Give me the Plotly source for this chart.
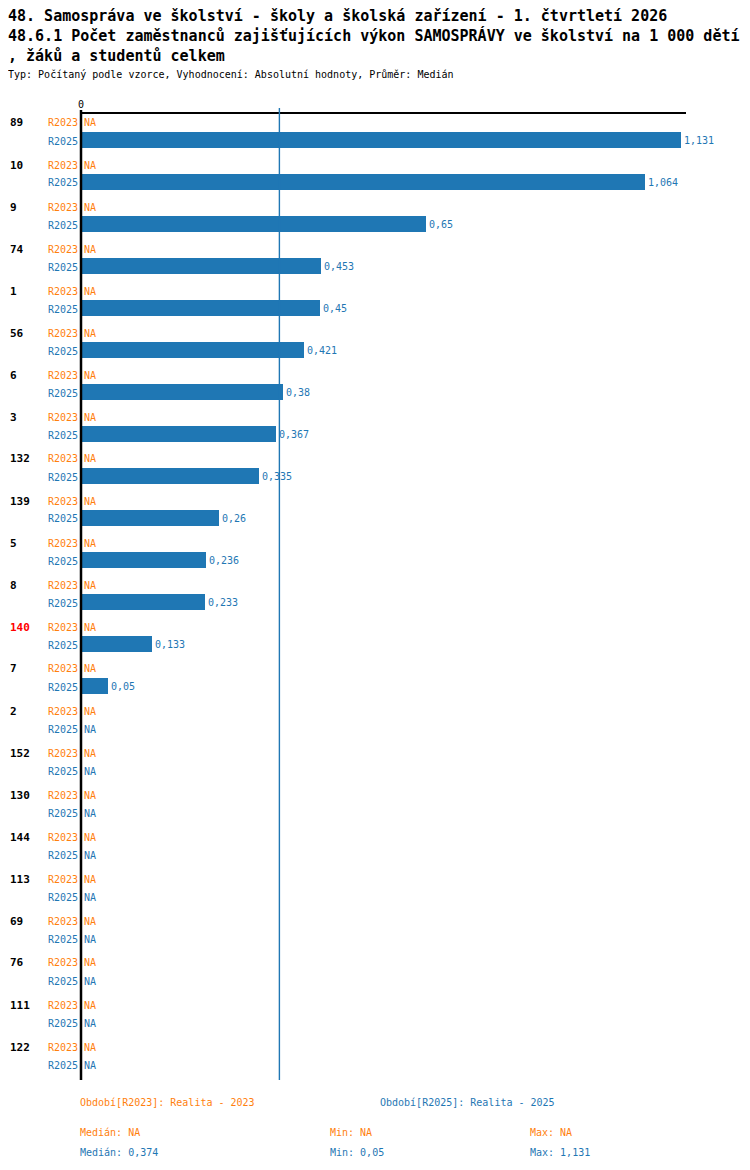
import plotly.graph_objects as go

# --- data ---
groups = ["89", "10", "9", "74", "1", "56", "6", "3", "132", "139", "5", "8",
          "140", "7", "2", "152", "130", "144", "113", "69", "76", "111", "122"]
r2023 = [None] * len(groups)
r2025 = [1.131, 1.064, 0.65, 0.453, 0.45, 0.421, 0.38, 0.367, 0.335, 0.26,
         0.236, 0.233, 0.133, 0.05, None, None, None, None, None, None, None,
         None, None]
highlight = "140"
median_2025 = 0.374
min_2025 = 0.05
max_2025 = 1.131

title_1 = "48. Samospráva ve školství - školy a školská zařízení - 1. čtvrtletí 2026"
title_2 = "48.6.1 Počet zaměstnanců zajišťujících výkon SAMOSPRÁVY ve školství na 1 000 dětí"
title_3 = ", žáků a studentů celkem"
subtitle = "Typ: Počítaný podle vzorce, Vyhodnocení: Absolutní hodnoty, Průměr: Medián"

ORANGE = "#ff7f0e"
BLUE = "#1f77b4"
FONT = "DejaVu Sans Mono"

# --- geometry: positions given in page pixels, page body has an 8px margin ---
OFF = 8
W, H = 750 - OFF, 1170 - OFF
AX_LEFT, AX_RIGHT, AX_TOP, AX_BOTTOM = 81, 686, 114, 1080
L = AX_LEFT - OFF
R = W - (AX_RIGHT - OFF)
T = AX_TOP - OFF
B = H - (AX_BOTTOM - OFF)
PLOT_W = W - L - R
PLOT_H = H - T - B
PITCH = 42
X_MAX = 1.1405
PAD = 2  # annotation inner padding


def fmt(v):
    return "NA" if v is None else f"{v:g}".replace(".", ",")


def py(ypage):
    return (H - B - (ypage - OFF)) / PLOT_H


def px(xpage):
    return (xpage - OFF - L) / PLOT_W


y23 = [PITCH * i + 9 for i in range(len(groups))]
y25 = [PITCH * i + 27 for i in range(len(groups))]
ybar = [PITCH * i + 26 for i in range(len(groups))]

fig = go.Figure()

fig.add_trace(go.Bar(
    y=ybar, x=[0 if v is None else v for v in r2025], orientation="h",
    width=16, marker=dict(color=BLUE, line=dict(width=0)),
    text=[fmt(v) if v is not None else "" for v in r2025],
    textposition="outside", cliponaxis=False, constraintext="none",
    textfont=dict(family=FONT, size=10, color=BLUE),
    showlegend=False, hoverinfo="skip",
))

ann = []
for i, g in enumerate(groups):
    ann.append(dict(x=px(10 - PAD), xref="paper", y=py(AX_TOP + y23[i]), yref="paper",
                    text=f"<b>{g}</b>", showarrow=False, xanchor="left",
                    yanchor="middle",
                    font=dict(family=FONT, size=11,
                              color="#ff0000" if g == highlight else "#000000")))
    for yy, lab, col, val in ((y23[i], "R2023", ORANGE, r2023[i]),
                              (y25[i], "R2025", BLUE, r2025[i])):
        ann.append(dict(x=px(78 + PAD), xref="paper", y=py(AX_TOP + yy), yref="paper",
                        text=lab, showarrow=False, xanchor="right",
                        yanchor="middle", font=dict(family=FONT, size=10, color=col)))
        if val is None:
            ann.append(dict(x=px(84 - PAD), xref="paper", y=py(AX_TOP + yy), yref="paper",
                            text="NA", showarrow=False, xanchor="left",
                            yanchor="middle", font=dict(family=FONT, size=10, color=col)))

# titles (page y of line centres; first line pushed down to stay inside the svg)
for ypx, txt, size, bold in ((16, title_1, 15, True), (36, title_2, 15, True),
                             (56, title_3, 15, True), (74, subtitle, 10, False)):
    ann.append(dict(x=px(OFF - PAD), xref="paper", y=py(ypx), yref="paper",
                    text=f"<b>{txt}</b>" if bold else txt,
                    showarrow=False, xanchor="left", yanchor="middle",
                    font=dict(family=FONT, size=size, color="#000000")))

# footer
foot = [
    (80, 1102, "Období[R2023]: Realita - 2023", ORANGE),
    (380, 1102, "Období[R2025]: Realita - 2025", BLUE),
    (80, 1132, "Medián: " + fmt(None), ORANGE),
    (330, 1132, "Min: " + fmt(None), ORANGE),
    (530, 1132, "Max: " + fmt(None), ORANGE),
    (80, 1152, "Medián: " + fmt(median_2025), BLUE),
    (330, 1152, "Min: " + fmt(min_2025), BLUE),
    (530, 1152, "Max: " + fmt(max_2025), BLUE),
]
for xx, yy, txt, col in foot:
    ann.append(dict(x=px(xx - PAD), xref="paper", y=py(yy), yref="paper", text=txt,
                    showarrow=False, xanchor="left", yanchor="middle",
                    font=dict(family=FONT, size=10, color=col)))

shapes = [
    dict(type="line", xref="paper", yref="paper",
         x0=median_2025 / X_MAX, x1=median_2025 / X_MAX,
         y0=0, y1=py(108), line=dict(color=BLUE, width=1.4)),
    dict(type="line", xref="paper", yref="paper", x0=0, x1=0,
         y0=0, y1=py(110), line=dict(color="#000000", width=2.5)),
]

fig.update_layout(
    width=W, height=H,
    margin=dict(l=L, r=R, t=T, b=B),
    plot_bgcolor="white", paper_bgcolor="white",
    font=dict(family=FONT, size=10, color="#000000"),
    xaxis=dict(range=[0, X_MAX], side="top", showgrid=False, zeroline=False,
               showline=True, linecolor="#000000", linewidth=1.5,
               tickvals=[0], ticktext=["0"], ticks="", ticklen=0,
               tickfont=dict(family=FONT, size=10, color="#000000")),
    yaxis=dict(range=[PLOT_H, 0], showgrid=False, zeroline=False,
               showline=False, showticklabels=False, ticks=""),
    annotations=ann,
    shapes=shapes,
    bargap=0,
)

fig.write_html("out.html")
